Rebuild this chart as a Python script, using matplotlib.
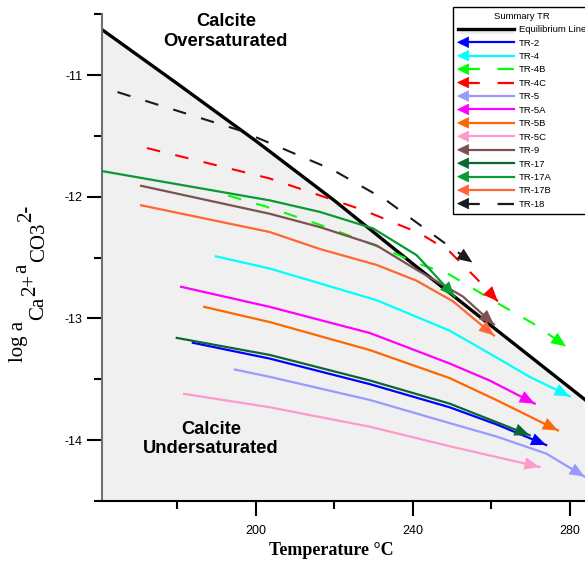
import matplotlib
matplotlib.use("Agg")
import matplotlib.pyplot as plt
from matplotlib.lines import Line2D
from matplotlib.patches import Polygon, Rectangle
from matplotlib.legend_handler import HandlerBase
from matplotlib.ticker import MultipleLocator, FuncFormatter

plt.rcParams['font.family'] = ['Liberation Sans', 'DejaVu Sans']

# equilibrium line (calcite saturation)
eq_temp = [161, 180, 200, 220, 240, 260, 284]
eq_log = [-10.63, -11.07, -11.54, -12.03, -12.55, -13.06, -13.67]

# samples: name, temperatures, log activity product
names = ['TR-2', 'TR-4', 'TR-4B', 'TR-4C', 'TR-5', 'TR-5A', 'TR-5B', 'TR-5C',
         'TR-9', 'TR-17', 'TR-17A', 'TR-17B', 'TR-18']
temps = [
    [184.0, 203.6, 229.1, 249.4, 261.3, 274.0],
    [189.9, 203.6, 230.8, 249.4, 261.3, 269.8, 280.0],
    [193.0, 203.6, 218.1, 233.6, 241.5, 249.4, 263.0, 270.6, 279.1],
    [172.3, 203.6, 227.4, 241.8, 249.4, 256.2, 261.7],
    [194.7, 203.6, 229.1, 249.4, 261.3, 274.0, 283.8],
    [181.0, 203.6, 229.1, 249.4, 259.6, 271.1],
    [186.9, 203.6, 229.1, 249.4, 261.3, 277.0],
    [181.8, 203.6, 229.1, 249.4, 272.3],
    [170.8, 203.6, 216.4, 230.8, 241.0, 252.8, 260.7],
    [179.9, 203.6, 229.1, 249.4, 269.8],
    [161.0, 203.6, 216.4, 229.9, 241.0, 250.7],
    [170.8, 203.6, 216.4, 230.8, 241.0, 250.3, 260.7],
    [164.8, 196.0, 219.7, 233.3, 247.7, 255.2],
]
logs = [
    [-13.20, -13.33, -13.54, -13.73, -13.87, -14.04],
    [-12.49, -12.59, -12.85, -13.10, -13.32, -13.48, -13.64],
    [-11.99, -12.09, -12.25, -12.44, -12.55, -12.64, -12.90, -13.04, -13.23],
    [-11.60, -11.85, -12.11, -12.30, -12.45, -12.67, -12.86],
    [-13.42, -13.48, -13.67, -13.86, -13.97, -14.11, -14.30],
    [-12.74, -12.905, -13.12, -13.37, -13.51, -13.70],
    [-12.905, -13.03, -13.26, -13.49, -13.67, -13.92],
    [-13.62, -13.73, -13.89, -14.05, -14.22],
    [-11.91, -12.14, -12.25, -12.40, -12.60, -12.82, -13.05],
    [-13.16, -13.30, -13.51, -13.70, -13.96],
    [-11.79, -12.03, -12.125, -12.26, -12.48, -12.82],
    [-12.07, -12.29, -12.43, -12.56, -12.69, -12.86, -13.14],
    [-11.14, -11.455, -11.78, -12.03, -12.37, -12.54],
]
colors = ['#0000ff', '#00ffff', '#00ff00', '#ff0000', '#9999ff', '#ff00ff', '#ff6600',
          '#ff99cc', '#7a5252', '#0b6633', '#0a9933', '#ff6633', '#1a1a1a']
dashed = ['TR-4B', 'TR-4C', 'TR-18']

# y label pieces and how far each sits below the main baseline (px)
ylab_parts = ['log a', 'Ca', '2+', 'a', 'CO3', '2-']
ylab_drop = [0, 20, 12, 3, 21, 8]


class ArrowHandler(HandlerBase):
    # legend entry: line with arrow head on the left
    def create_artists(self, legend, orig_handle, xdescent, ydescent,
                       width, height, fontsize, trans):
        y = height / 2 - ydescent
        x0 = -xdescent
        c = orig_handle.get_color()
        ln = Line2D([x0 + 3, x0 + width], [y, y], color=c, lw=orig_handle.get_linewidth(),
                    ls=orig_handle.get_linestyle(), transform=trans)
        if orig_handle.get_linestyle() == '--':
            ln.set_dashes((8, 8))
        hl, hw = 8, 3.8
        head = Polygon([[x0, y], [x0 + hl, y + hw], [x0 + hl, y - hw]], closed=True,
                       fc=c, ec=c, lw=0.5, transform=trans)
        return [ln, head]


class EqHandler(HandlerBase):
    def create_artists(self, legend, orig_handle, xdescent, ydescent,
                       width, height, fontsize, trans):
        y = height / 2 - ydescent
        x0 = -xdescent
        band = Rectangle((x0 + 2, y - 4), width - 2, 4, fc='#ececec', ec='none', transform=trans)
        ln = Line2D([x0, x0 + width], [y, y], color='black', lw=2.4, transform=trans)
        return [band, ln]


W, H = 585, 568
fig = plt.figure(figsize=(W / 100, H / 100), dpi=100)
ax = fig.add_axes([0.174, 0.118, 0.826, 0.857])

ax.fill_between(eq_temp, eq_log, -14.5, color='#f0f0f0', lw=0, zorder=0)
eq_line, = ax.plot(eq_temp, eq_log, color='black', lw=2.4, zorder=2)

handles = []
for name, t, v, c in zip(names, temps, logs, colors):
    if name in dashed:
        ln, = ax.plot(t, v, color=c, lw=1.5, ls='--', dashes=(6.5, 7.5), zorder=3)
    else:
        ln, = ax.plot(t, v, color=c, lw=1.6, zorder=3)
    ax.annotate('', xy=(t[-1], v[-1]), xytext=(t[-2], v[-2]), annotation_clip=False,
                arrowprops=dict(arrowstyle='-|>,head_length=0.6,head_width=0.25',
                                mutation_scale=18, color=c, lw=0, shrinkA=0, shrinkB=0),
                zorder=4)
    handles.append(Line2D([], [], color=c, lw=1.6, ls='--' if name in dashed else '-'))

ax.set_xlim(160.8, 283.9)
ax.set_ylim(-14.5, -10.5)

ax.spines['top'].set_visible(False)
ax.spines['right'].set_visible(False)
ax.spines['left'].set_color('#707070')
ax.spines['left'].set_linewidth(1.5)
ax.spines['bottom'].set_linewidth(1.5)

ax.xaxis.set_major_locator(MultipleLocator(40))
ax.xaxis.set_minor_locator(MultipleLocator(20))
ax.yaxis.set_major_locator(MultipleLocator(1))
ax.yaxis.set_minor_locator(MultipleLocator(0.5))
ax.yaxis.set_major_formatter(FuncFormatter(lambda v, p: '%d' % v))
ax.tick_params(which='major', length=11, width=1.5, labelsize=9, pad=3)
ax.tick_params(which='minor', length=5.5, width=1.5)
ax.tick_params(axis='x', which='major', pad=6)

ax.set_xlabel('Temperature °C', fontfamily='Liberation Serif', fontweight='bold',
              fontsize=13, labelpad=4)
ax.xaxis.label.set_x(0.474)

ax.text(192.4, -10.64, 'Calcite\nOversaturated', ha='center', va='center',
        fontsize=13.2, fontweight='bold', linespacing=1.2)
ax.text(188.6, -13.99, 'Calcite\nUndersaturated', ha='center', va='center',
        fontsize=13.2, fontweight='bold', linespacing=1.2)

hmap = {eq_line: EqHandler()}
for h in handles:
    hmap[h] = ArrowHandler()
leg = fig.legend([eq_line] + handles, ['Equilibrium Line'] + names,
                 title='Summary TR', loc='upper left', bbox_to_anchor=(0.766, 0.996),
                 fontsize=6.8, title_fontsize=6.8, handler_map=hmap, handlelength=6,
                 handletextpad=0.5, labelspacing=0.47, borderpad=0.5,
                 frameon=True, fancybox=False, edgecolor='black', framealpha=1)
leg.get_frame().set_linewidth(1.0)

# y label built from pieces so the sub/superscripts stay full size
fig.canvas.draw()
rend = fig.canvas.get_renderer()
x_base, y_cur = 23, H - 362
for part, drop in zip(ylab_parts, ylab_drop):
    t = fig.text((x_base + drop) / W, y_cur / H, part, rotation=90, rotation_mode='anchor',
                 ha='left', va='baseline', fontfamily='Liberation Serif', fontsize=15)
    y_cur = t.get_window_extent(rend).y1 + 1

fig.savefig('out.png', dpi=100)
